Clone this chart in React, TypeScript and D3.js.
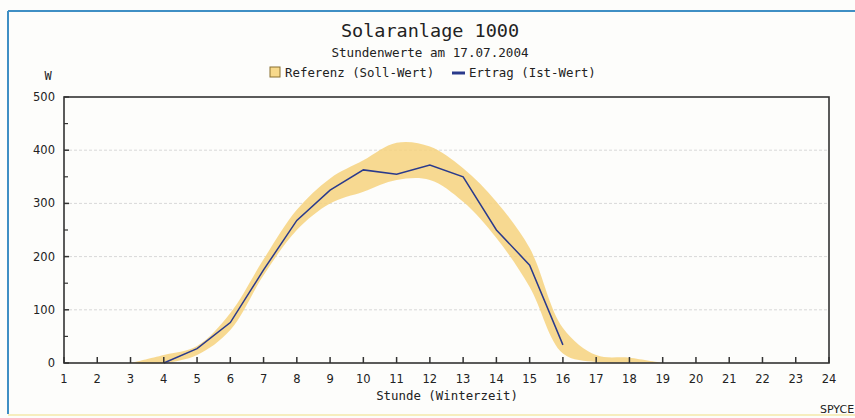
import React from "react";
import * as d3 from "d3";

const hours = [3, 4, 5, 6, 7, 8, 9, 10, 11, 12, 13, 14, 15, 16, 17, 18, 19];
const refMin = [0, 0, 15, 62, 165, 250, 300, 322, 344, 344, 303, 235, 143, 18, 2, 1, 0];
const refMax = [0, 15, 32, 94, 195, 288, 347, 381, 414, 407, 366, 303, 216, 66, 15, 10, 0];
const yieldHours = [4, 5, 6, 7, 8, 9, 10, 11, 12, 13, 14, 15, 16];
const yieldValues = [0, 27, 76, 175, 268, 325, 363, 355, 372, 350, 250, 184, 34];
const xTicks = d3.range(1, 25);
const yTicks = [0, 100, 200, 300, 400, 500];
const yMinorTicks = [50, 150, 250, 350, 450];

const W = 855;
const H = 418;
const left = 64;
const right = 829;
const top = 97;
const bottom = 363;

export default function App() {
  const x = d3.scaleLinear().domain([1, 24]).range([left, right]);
  const y = d3.scaleLinear().domain([0, 500]).range([bottom, top]);

  const band = hours.map((h, i) => ({ h, lo: refMin[i], hi: refMax[i] }));
  const area = d3
    .area<{ h: number; lo: number; hi: number }>()
    .x((d) => x(d.h))
    .y0((d) => y(d.lo))
    .y1((d) => y(d.hi))
    .curve(d3.curveCatmullRom.alpha(0.5));
  const line = d3
    .line<number>()
    .x((_, i) => x(yieldHours[i]))
    .y((d) => y(d));

  const mono = "'DejaVu Sans Mono', monospace";
  const sans = "'DejaVu Sans', Verdana, sans-serif";
  const axisColor = "#333";

  return (
    <svg
      width={W}
      height={H}
      style={{ position: "absolute", left: 0, top: 0, background: "#fdfdfb" }}
    >
      {/* page border */}
      <line x1={8} y1={11} x2={W} y2={11} stroke="#3f8fc4" strokeWidth={2} />
      <line x1={8} y1={11} x2={8} y2={414} stroke="#3f8fc4" strokeWidth={2} />
      <line x1={8} y1={415} x2={W} y2={415} stroke="#f6eebe" strokeWidth={2} />

      {/* titles */}
      <text x={430} y={37} textAnchor="middle" fontFamily={mono} fontSize={18.5} fill="#222">
        Solaranlage 1000
      </text>
      <text x={430} y={57} textAnchor="middle" fontFamily={mono} fontSize={12.6} fill="#222">
        Stundenwerte am 17.07.2004
      </text>

      {/* legend */}
      <rect x={270} y={67} width={10} height={10} fill="#f7d98b" stroke="#8a7030" strokeWidth={1} />
      <text x={285} y={77} fontFamily={mono} fontSize={12.4} fill="#222">
        Referenz (Soll-Wert)
      </text>
      <line x1={452} y1={73} x2={465} y2={73} stroke="#2a3a8c" strokeWidth={3} />
      <text x={469} y={77} fontFamily={mono} fontSize={12.4} fill="#222">
        Ertrag (Ist-Wert)
      </text>

      <text x={48} y={80} textAnchor="middle" fontFamily={mono} fontSize={12} fill="#222">
        W
      </text>

      {/* grid */}
      {yTicks
        .filter((t) => t > 0 && t < 500)
        .map((t) => (
          <line
            key={"g" + t}
            x1={left}
            x2={right}
            y1={y(t)}
            y2={y(t)}
            stroke="#d8d8d8"
            strokeWidth={1}
            strokeDasharray="3,2"
          />
        ))}

      {/* reference band */}
      <path d={area(band) || ""} fill="#f6d27e" fillOpacity={0.85} stroke="none" />

      {/* yield line */}
      <path d={line(yieldValues) || ""} fill="none" stroke="#2a3a8c" strokeWidth={1.5} />

      {/* frame */}
      <rect x={left} y={top} width={right - left} height={bottom - top} fill="none" stroke={axisColor} strokeWidth={1.6} />

      {/* y ticks */}
      {yTicks.map((t) => (
        <g key={"y" + t}>
          <line x1={left} x2={left + 5} y1={y(t)} y2={y(t)} stroke={axisColor} strokeWidth={1.5} />
          <text
            x={55}
            y={y(t)}
            dy="0.35em"
            textAnchor="end"
            fontFamily={sans}
            fontSize={11.5}
            fill="#222"
          >
            {t}
          </text>
        </g>
      ))}
      {yMinorTicks.map((t) => (
        <line key={"ym" + t} x1={left} x2={left + 4} y1={y(t)} y2={y(t)} stroke={axisColor} strokeWidth={1.2} />
      ))}

      {/* x ticks */}
      {xTicks.map((t) => (
        <g key={"x" + t}>
          <line x1={x(t)} x2={x(t)} y1={bottom} y2={bottom - 6} stroke={axisColor} strokeWidth={1.5} />
          <text x={x(t)} y={383} textAnchor="middle" fontFamily={sans} fontSize={11.5} fill="#222">
            {t}
          </text>
        </g>
      ))}

      <text x={447} y={400} textAnchor="middle" fontFamily={mono} fontSize={12.4} fill="#222">
        Stunde (Winterzeit)
      </text>

      <text x={820} y={413} fontFamily={sans} fontSize={11} fill="#222">
        SPYCE
      </text>
    </svg>
  );
}
